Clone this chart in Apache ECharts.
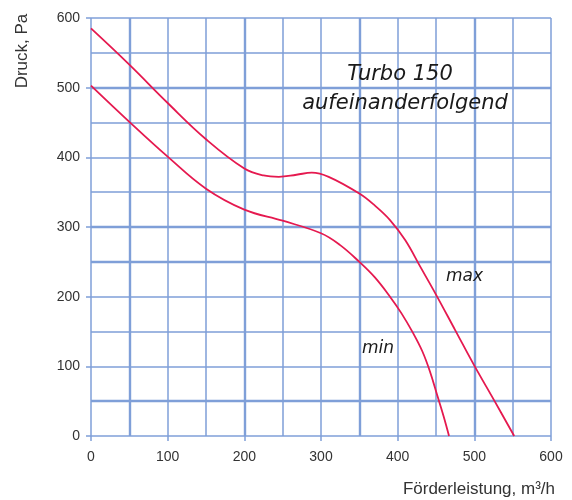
<!DOCTYPE html>
<html>
<head>
<meta charset="utf-8">
<script src="https://cdn.jsdelivr.net/npm/echarts@6/dist/echarts.min.js"></script>
<style>html,body{margin:0;padding:0;background:#fff}#c{width:572px;height:500px}</style>
</head>
<body>
<div id="c"></div>
<script>
// Data
const xTicks = [0, 100, 200, 300, 400, 500, 600];
const yTicks = [0, 100, 200, 300, 400, 500, 600];
const maxCurve = [[0,585],[50,533],[100,478],[150,426],[200,384],[225,374],[245,372],[268,375],[288,378],[310,372],[350,348],[370,331],[390,310],[410,281],[430,242],[450,203],[475,152],[500,101],[527,49],[552,0]];
const minCurve = [[0,503],[50,451],[100,401],[150,355],[200,325],[250,309],[300,291],[325,274],[350,250],[370,228],[390,200],[405,176],[420,148],[432,122],[442,93],[452,57],[460,28],[467,0]];
const thickX = [50, 200, 350, 500];
const thickY = [500, 300, 250, 50];
const seriesNames = ['max', 'min'];

const gridColor = '#7f9fd8';
const curveColor = '#e5194f';

const chart = echarts.init(document.getElementById('c'), null, {renderer: 'canvas'});
const axisCommon = {
  type: 'value', min: 0, max: 600, interval: 100,
  axisLine: {show: false},
  axisTick: {show: true, length: 5, lineStyle: {color: gridColor, width: 1.5}},
  splitLine: {show: true, lineStyle: {color: gridColor, width: 1.5}},
  minorTick: {show: false, splitNumber: 2},
  minorSplitLine: {show: true, lineStyle: {color: gridColor, width: 1.5}},
  axisLabel: {color: '#333', fontSize: 14, fontFamily: 'Liberation Sans'}
};
chart.setOption({
  animation: false,
  grid: {left: 91, right: 21, top: 18, bottom: 64},
  xAxis: Object.assign({}, axisCommon, {
    axisLabel: Object.assign({}, axisCommon.axisLabel, {margin: 14, customValues: xTicks})
  }),
  yAxis: Object.assign({}, axisCommon, {
    axisLabel: Object.assign({}, axisCommon.axisLabel, {margin: 11, customValues: yTicks})
  }),
  series: [
    {
      name: seriesNames[0], type: 'line', data: maxCurve, smooth: 0.4, symbol: 'none',
      lineStyle: {color: curveColor, width: 1.8}, z: 5,
      markLine: {
        silent: true, symbol: 'none', label: {show: false},
        lineStyle: {color: gridColor, width: 2.4, type: 'solid'},
        data: thickX.map(v => ({xAxis: v})).concat(thickY.map(v => ({yAxis: v})))
      }
    },
    {
      name: seriesNames[1], type: 'line', data: minCurve, smooth: 0.4, symbol: 'none',
      lineStyle: {color: curveColor, width: 1.8}, z: 5
    }
  ],
  graphic: [
    {type: 'text', x: 22, y: 51, rotation: Math.PI / 2,
      style: {text: 'Druck, Pa', fontSize: 17, fontFamily: 'Liberation Sans', fill: '#333', align: 'center', verticalAlign: 'middle'}},
    {type: 'text', x: 555, y: 489,
      style: {text: 'Förderleistung, m³/h', fontSize: 17, fontFamily: 'Liberation Sans', fill: '#333', align: 'right', verticalAlign: 'middle'}},
    {type: 'text', x: 400, y: 75, z: 10,
      style: {text: 'Turbo 150', fontSize: 21, fontStyle: 'italic', fontFamily: 'DejaVu Sans', fill: '#1a1a1a', align: 'center', verticalAlign: 'middle'}},
    {type: 'text', x: 405, y: 104, z: 10,
      style: {text: 'aufeinanderfolgend', fontSize: 21, fontStyle: 'italic', fontFamily: 'DejaVu Sans', fill: '#1a1a1a', align: 'center', verticalAlign: 'middle'}},
    {type: 'text', x: 446, y: 277, z: 10,
      style: {text: 'max', fontSize: 17, fontStyle: 'italic', fontFamily: 'DejaVu Sans', fill: '#1a1a1a', align: 'left', verticalAlign: 'middle'}},
    {type: 'text', x: 362, y: 349, z: 10,
      style: {text: 'min', fontSize: 17, fontStyle: 'italic', fontFamily: 'DejaVu Sans', fill: '#1a1a1a', align: 'left', verticalAlign: 'middle'}}
  ]
});
</script>
</body>
</html>
